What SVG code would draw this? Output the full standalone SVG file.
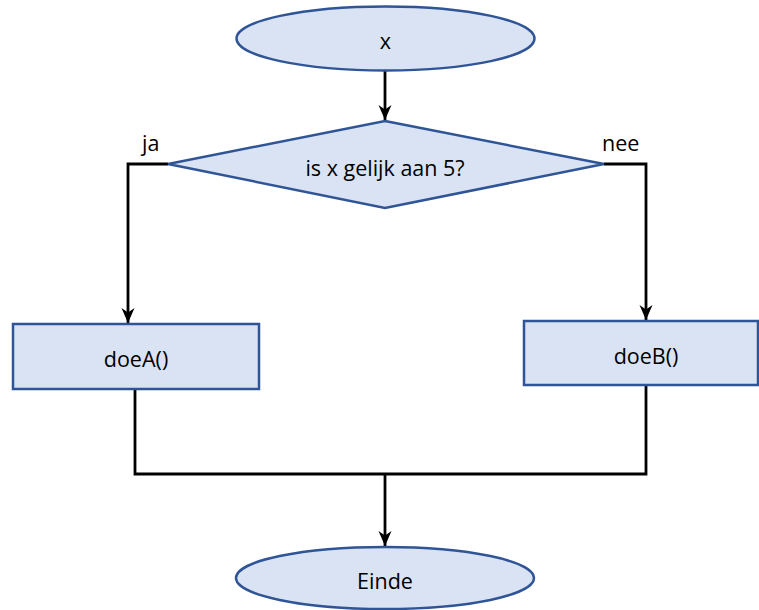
<svg xmlns="http://www.w3.org/2000/svg" width="759" height="610" viewBox="0 0 759 610">
<style>
.node{fill:#DAE3F3;stroke:#2F5597;stroke-width:2.5}
.conn{fill:none;stroke:#000;stroke-width:2.8}
text{font-family:"Open Sans","Liberation Sans",sans-serif;font-size:21.5px;fill:#000}
.c{text-anchor:middle;dominant-baseline:central}
</style>
<defs>
<marker id="arr" markerUnits="userSpaceOnUse" markerWidth="16" markerHeight="18" viewBox="0 0 16 18" refX="15" refY="9" orient="auto">
<path d="M0,2.5 L15,9 L0,15.5 L4.5,9 Z" fill="#000"/>
</marker>
</defs>
<rect width="759" height="610" fill="#fff"/>
<g id="connectors">
<path class="conn" d="M385,71 V120" marker-end="url(#arr)"/>
<path class="conn" d="M168,164 H128 V323" marker-end="url(#arr)"/>
<path class="conn" d="M604,164 H646 V320" marker-end="url(#arr)"/>
<path class="conn" d="M135,389 V474 H646 V386"/>
<path class="conn" d="M385,474 V546" marker-end="url(#arr)"/>
</g>
<g id="start">
<ellipse class="node" cx="385.5" cy="38.5" rx="149" ry="32"/>
<text class="c" x="385.5" y="40">x</text>
</g>
<g id="decision">
<polygon class="node" points="385,121 604,164 385,208 168,164"/>
<text class="c" x="385" y="167">is x gelijk aan 5?</text>
</g>
<g id="label-ja"><text x="142" y="151">ja</text></g>
<g id="label-nee"><text x="602" y="151">nee</text></g>
<g id="doeA">
<rect class="node" x="13" y="324" width="246" height="65"/>
<text class="c" x="136" y="358">doeA()</text>
</g>
<g id="doeB">
<rect class="node" x="524" y="321" width="234" height="64"/>
<text class="c" x="646" y="355">doeB()</text>
</g>
<g id="einde">
<ellipse class="node" cx="385" cy="578" rx="149" ry="31"/>
<text class="c" x="385" y="580">Einde</text>
</g>
</svg>
